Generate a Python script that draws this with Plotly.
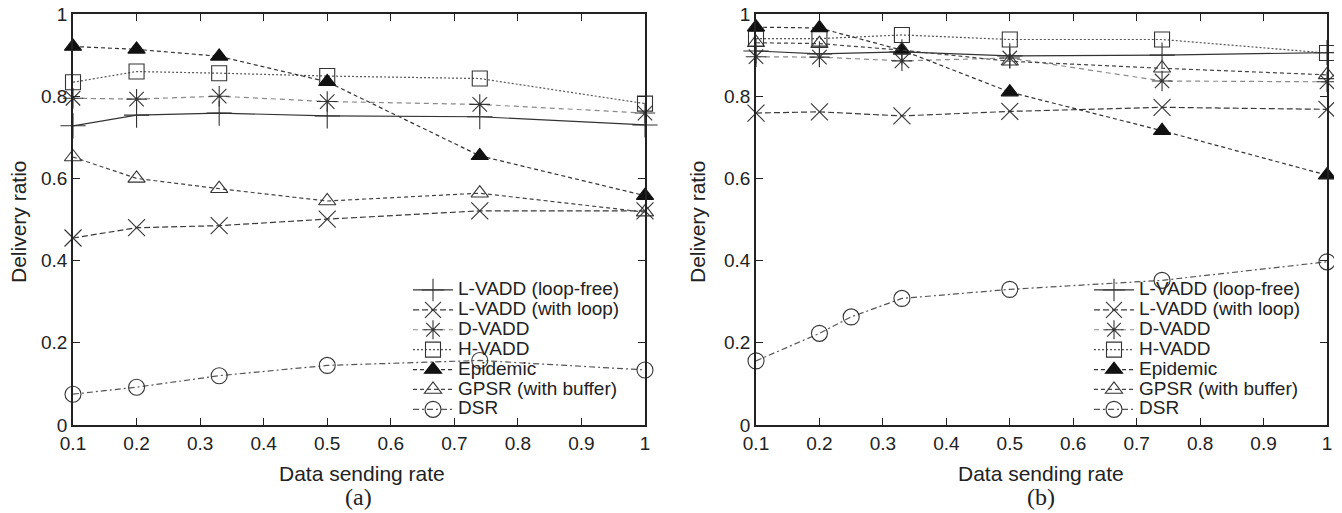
import plotly.graph_objects as go

# ---------------- data ----------------
x_a = [0.1, 0.2, 0.33, 0.5, 0.74, 1.0]
x_b = [0.1, 0.2, 0.33, 0.5, 0.74, 1.0]
x_b_dsr = [0.1, 0.2, 0.25, 0.33, 0.5, 0.74, 1.0]

series_names = ["L-VADD (loop-free)", "L-VADD (with loop)", "D-VADD", "H-VADD",
                "Epidemic", "GPSR (with buffer)", "DSR"]

# panel (a)
a_lvadd_free = [0.728, 0.754, 0.759, 0.752, 0.750, 0.730]
a_lvadd_loop = [0.455, 0.480, 0.485, 0.501, 0.521, 0.521]
a_dvadd = [0.795, 0.793, 0.800, 0.787, 0.780, 0.759]
a_hvadd = [0.834, 0.860, 0.856, 0.849, 0.843, 0.782]
a_epidemic = [0.921, 0.914, 0.897, 0.835, 0.655, 0.558]
a_gpsr = [0.652, 0.600, 0.575, 0.545, 0.564, 0.518]
a_dsr = [0.075, 0.092, 0.120, 0.145, 0.157, 0.134]

# panel (b)
b_lvadd_free = [0.910, 0.903, 0.908, 0.898, 0.900, 0.906]
b_lvadd_loop = [0.759, 0.762, 0.752, 0.763, 0.773, 0.768]
b_dvadd = [0.896, 0.895, 0.886, 0.893, 0.837, 0.835]
b_hvadd = [0.940, 0.940, 0.949, 0.938, 0.938, 0.905]
b_epidemic = [0.968, 0.966, 0.912, 0.810, 0.716, 0.608]
b_gpsr = [0.930, 0.928, 0.912, 0.885, 0.868, 0.852]
b_dsr = [0.156, 0.223, 0.263, 0.308, 0.330, 0.352, 0.397]

y_ticks = [0, 0.2, 0.4, 0.6, 0.8, 1.0]
y_tick_text = ["0", "0.2", "0.4", "0.6", "0.8", "1"]
x_ticks = [0.1, 0.2, 0.3, 0.4, 0.5, 0.6, 0.7, 0.8, 0.9, 1.0]
x_tick_text = ["0.1", "0.2", "0.3", "0.4", "0.5", "0.6", "0.7", "0.8", "0.9", "1"]

# ---------------- styles ----------------
styles = [
    dict(color="#333333", dash="solid", symbol="cross-thin-open", size=18),
    dict(color="#3a3a3a", dash="6px,3px", symbol="x-thin-open", size=17),
    dict(color="#8a8a8a", dash="5px,4px", symbol="asterisk-open", size=17),
    dict(color="#555555", dash="2px,2px", symbol="square-open", size=15),
    dict(color="#333333", dash="4px,3px", symbol="triangle-up", size=15),
    dict(color="#444444", dash="4px,3px", symbol="triangle-up-open", size=15),
    dict(color="#555555", dash="6px,3px,2px,3px", symbol="circle-open", size=16),
]

FONT = "Liberation Sans, Arial, Helvetica, sans-serif"
SERIF = "Liberation Serif, Times New Roman, serif"
W, H = 1342, 513
OFF = 8  # page body margin
TXT = "#222222"

fig = go.Figure()

panels = [
    ("x", "y", "legend", [x_a] * 7,
     [a_lvadd_free, a_lvadd_loop, a_dvadd, a_hvadd, a_epidemic, a_gpsr, a_dsr]),
    ("x2", "y2", "legend2", [x_b] * 6 + [x_b_dsr],
     [b_lvadd_free, b_lvadd_loop, b_dvadd, b_hvadd, b_epidemic, b_gpsr, b_dsr]),
]

for xa, ya, leg, xs, ys in panels:
    for name, st, xv, yv in zip(series_names, styles, xs, ys):
        filled = st["symbol"] == "triangle-up"
        fig.add_trace(go.Scatter(
            x=xv, y=yv, xaxis=xa, yaxis=ya, legend=leg,
            name='<span style="font-size:19px">' + name + '</span>',
            mode="lines+markers", cliponaxis=False,
            line=dict(color=st["color"], dash=st["dash"], width=1.2),
            marker=dict(symbol=st["symbol"], size=st["size"],
                        color="#111111" if filled else "#333333",
                        line=dict(color="#111111" if filled else "#444444", width=1.1)),
        ))


def px_x(p):
    return (p - OFF) / W


def px_y(p):
    return 1 - (p - OFF) / H


axis_common = dict(
    showgrid=False, zeroline=False, showline=True, linecolor="#222222", linewidth=1.5,
    mirror="ticks", ticks="inside", ticklen=7, tickcolor="#222222", tickwidth=1.3,
    automargin=False, ticklabeloverflow="allow",
    tickfont=dict(family=FONT, size=19, color=TXT),
)

legend_common = dict(xanchor="right", yanchor="bottom", bgcolor="rgba(0,0,0,0)",
                     borderwidth=0, tracegroupgap=0, itemwidth=40,
                     font=dict(family=FONT, size=13, color=TXT))

fig.update_layout(
    template="none",
    width=W, height=H, margin=dict(l=0, r=0, t=0, b=0, autoexpand=False),
    paper_bgcolor="white", plot_bgcolor="white",
    font=dict(family=FONT, size=16, color=TXT),
    xaxis=dict(domain=[px_x(73), px_x(645)], range=[0.1, 1.0], tickvals=x_ticks,
               ticktext=x_tick_text, anchor="y", **axis_common),
    yaxis=dict(domain=[px_y(425), px_y(14)], range=[0, 1], tickvals=y_ticks,
               ticktext=y_tick_text, anchor="x", **axis_common),
    xaxis2=dict(domain=[px_x(756), px_x(1327)], range=[0.1, 1.0], tickvals=x_ticks,
                ticktext=x_tick_text, anchor="y2", **axis_common),
    yaxis2=dict(domain=[px_y(425), px_y(14)], range=[0, 1], tickvals=y_ticks,
                ticktext=y_tick_text, anchor="x2", **axis_common),
    legend=dict(x=px_x(625), y=px_y(425), **legend_common),
    legend2=dict(x=px_x(1306), y=px_y(425), **legend_common),
)

anns = [
    dict(text="Data sending rate", x=px_x(362), y=px_y(473)),
    dict(text="Data sending rate", x=px_x(1041), y=px_y(473)),
    dict(text="Delivery ratio", x=px_x(18), y=px_y(222), textangle=-90),
    dict(text="Delivery ratio", x=px_x(697), y=px_y(222), textangle=-90),
]
anns = [dict(a, xref="paper", yref="paper", showarrow=False, xanchor="center",
             yanchor="middle", font=dict(family=FONT, size=21, color=TXT)) for a in anns]
anns += [
    dict(text="(a)", x=px_x(359), y=px_y(497), xref="paper", yref="paper",
         xanchor="center", yanchor="middle",
         showarrow=False, font=dict(family=SERIF, size=24, color=TXT)),
    dict(text="(b)", x=px_x(1041), y=px_y(497), xref="paper", yref="paper",
         xanchor="center", yanchor="middle",
         showarrow=False, font=dict(family=SERIF, size=24, color=TXT)),
]
fig.update_layout(annotations=anns)

fig.write_html("out.html")
